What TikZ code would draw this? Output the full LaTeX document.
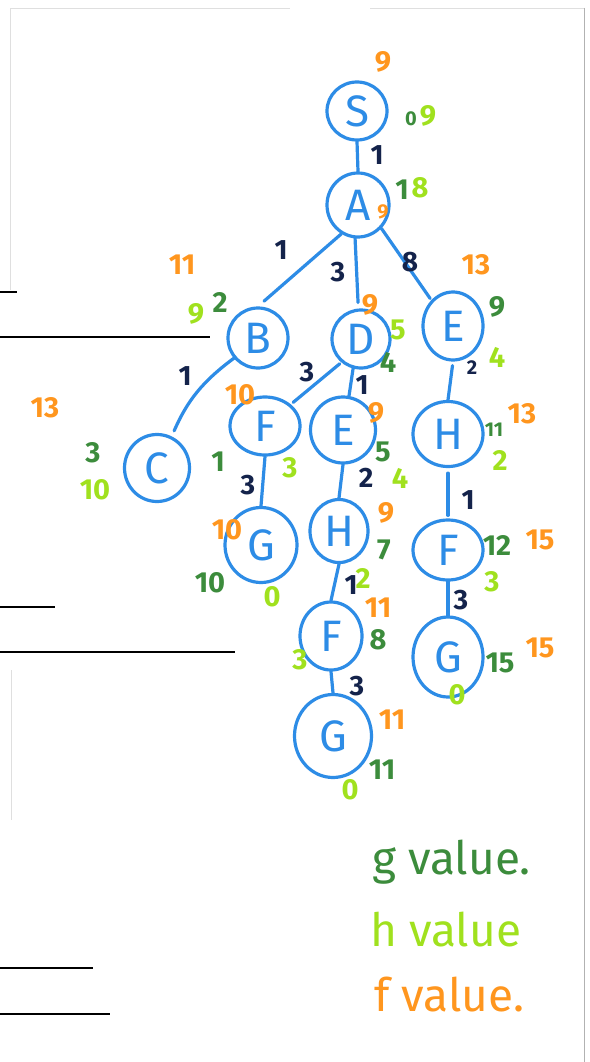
\documentclass[tikz,border=0pt]{standalone}
\usepackage{fontspec}
\setmainfont{Fira Sans}
\usetikzlibrary{shapes.geometric}
\definecolor{pen}{RGB}{45,140,230}
\definecolor{navy}{RGB}{20,35,75}
\definecolor{dgreen}{RGB}{60,140,60}
\definecolor{lgreen}{RGB}{160,225,30}
\definecolor{fcol}{RGB}{255,150,30}
\begin{document}
\begin{tikzpicture}[x=1pt,y=-1pt,
  state/.style={ellipse, draw=pen, line width=3.2pt, text=pen, inner sep=0pt,
    font=\fontsize{44}{44}\selectfont},
  link/.style={draw=pen, line width=3.2pt, line cap=round},
  cost/.style={text=navy, inner sep=0pt, font=\fontsize{28}{28}\selectfont\bfseries},
  gv/.style={text=dgreen, inner sep=0pt, font=\fontsize{29}{29}\selectfont\bfseries},
  hv/.style={text=lgreen, inner sep=0pt, font=\fontsize{29}{29}\selectfont\bfseries},
  fv/.style={text=fcol, inner sep=0pt, font=\fontsize{29}{29}\selectfont\bfseries},
  small/.style={font=\fontsize{20}{20}\selectfont\bfseries},
  legend/.style={anchor=west, inner sep=0pt, font=\fontsize{46}{46}\selectfont},
  rule/.style={draw=black, line width=2.6pt},
  frame/.style={draw=gray!25, line width=0.8pt}]

\useasboundingbox (0,0) rectangle (589,1062);
\fill[white] (0,0) rectangle (589,1062);

% page frame
\draw[frame] (10,290) -- (10,8) -- (290,8);
\draw[frame] (370,8) -- (584,8);
\draw[frame] (11,670) -- (11,820);
\draw[draw=gray!60, line width=1pt] (584,8) -- (584,1062);

% ruled lines on the left
\draw[rule] (0,292) -- (17,292);
\draw[rule] (0,337) -- (210,337);
\draw[rule] (0,607) -- (55,607);
\draw[rule] (0,652) -- (235,652);
\draw[rule] (0,968) -- (93,968);
\draw[rule] (0,1014) -- (110,1014);

% search tree
\node[state, minimum width=60pt, minimum height=58pt] (S)  at (357,111) {S};
\node[state, minimum width=62pt, minimum height=64pt] (A)  at (358,205) {A};
\node[state, minimum width=60pt, minimum height=60pt] (B)  at (258,338) {B};
\node[state, minimum width=58pt, minimum height=58pt] (D)  at (361,339) {D};
\node[state, minimum width=60pt, minimum height=68pt] (E1) at (453,326) {E};
\node[state, minimum width=65pt, minimum height=67pt] (C)  at (157,468) {C};
\node[state, minimum width=70pt, minimum height=58pt] (F1) at (265,426) {F};
\node[state, minimum width=65pt, minimum height=66pt] (E2) at (343,430) {E};
\node[state, minimum width=70pt, minimum height=65pt] (H1) at (448,434) {H};
\node[state, minimum width=72pt, minimum height=75pt] (G1) at (261,545) {G};
\node[state, minimum width=58pt, minimum height=63pt] (H2) at (339,531) {H};
\node[state, minimum width=70pt, minimum height=60pt] (F2) at (448,550) {F};
\node[state, minimum width=62pt, minimum height=68pt] (F3) at (331,636) {F};
\node[state, minimum width=70pt, minimum height=80pt] (G2) at (448,657) {G};
\node[state, minimum width=77pt, minimum height=83pt] (G3) at (333,736) {G};

% tree edges
\draw[link] (S.south) -- (A.north);
\draw[link, shorten >=8pt] (A.240) -- (B.north);
\draw[link, shorten >=6pt] (A.265) -- (D.95);
\draw[link, shorten >=2pt] (A.-45) -- (E1.130);
\draw[link, shorten >=6pt] (B.220) to[bend right=15] (C.65);
\draw[link, shorten <=2pt, shorten >=3pt] (D.230) -- (F1.40);
\draw[link] (D.255) -- (E2.80);
\draw[link, shorten <=4pt] (E1.south) -- (H1.north);
\draw[link] (F1.south) -- (G1.north);
\draw[link] (E2.south) -- (H2.north);
\draw[link, shorten <=5pt, shorten >=3pt] (H1.south) -- (F2.north);
\draw[link] (H2.south) -- (F3.north);
\draw[link] (F3.south) -- (G3.north);
\draw[link] (F2.south) -- (G2.north);

% step costs
\node[cost] (cSA)   at (377,155) {1};
\node[cost] (cAB)   at (281,250) {1};
\node[cost] (cAD)   at (338,272) {3};
\node[cost] (cAE)   at (410,262) {8};
\node[cost] (cBC)   at (185,376) {1};
\node[cost] (cDF)   at (307,372) {3};
\node[cost] (cDE)   at (362,385) {1};
\node[cost, small] (cEH) at (472,368) {2};
\node[cost] (cFG)   at (248,485) {3};
\node[cost] (cEH2)  at (366,478) {2};
\node[cost] (cHF)   at (468,500) {1};
\node[cost] (cHF2)  at (351,585) {1};
\node[cost] (cFG2)  at (461,600) {3};
\node[cost] (cFG3)  at (357,686) {3};

% S
\node[fv] (fS) at (383,62) {9};
\node[gv, small] (gS) at (411,119) {0};
\node[hv] (hS) at (428,116) {9};
% A
\node[gv] (gA) at (402,190) {1};
\node[hv] (hA) at (420,188) {8};
\node[fv, small] (fA) at (383,212) {9};
% B
\node[fv] (fB) at (182,265) {11};
\node[hv] (hB) at (196,314) {9};
\node[gv] (gB) at (220,302) {2};
% D
\node[fv] (fD) at (370,305) {9};
\node[hv] (hD) at (398,330) {5};
\node[gv] (gD) at (388,362) {4};
% E (right branch)
\node[fv] (fE1) at (476,265) {13};
\node[gv] (gE1) at (497,307) {9};
\node[hv] (hE1) at (497,357) {4};
% C
\node[fv] (fC) at (45,408) {13};
\node[gv] (gC) at (93,453) {3};
\node[hv] (hC) at (95,490) {10};
% F (under D)
\node[fv] (fF1) at (240,395) {10};
\node[gv] (gF1) at (218,462) {1};
\node[hv] (hF1) at (290,468) {3};
% E (under D)
\node[fv] (fE2) at (376,413) {9};
\node[gv] (gE2) at (383,452) {5};
\node[hv] (hE2) at (400,478) {4};
% H (right branch)
\node[gv, small] (gH1) at (494,430) {11};
\node[fv] (fH1) at (522,414) {13};
\node[hv] (hH1) at (500,460) {2};
% G (under F)
\node[fv] (fG1) at (227,530) {10};
\node[gv] (gG1) at (210,583) {10};
\node[hv] (hG1) at (272,597) {0};
% H (under E)
\node[fv] (fH2) at (386,513) {9};
\node[gv] (gH2) at (384,550) {7};
\node[hv] (hH2) at (363,578) {2};
% F (right branch)
\node[gv] (gF2) at (497,545) {12};
\node[fv] (fF2) at (540,540) {15};
\node[hv] (hF2) at (492,582) {3};
% F (under H)
\node[fv] (fF3) at (378,608) {11};
\node[gv] (gF3) at (378,640) {8};
\node[hv] (hF3) at (300,660) {3};
% G (right branch)
\node[gv] (gG2) at (500,663) {15};
\node[fv] (fG2) at (540,648) {15};
\node[hv] (hG2) at (457,695) {0};
% G (bottom)
\node[fv] (fG3) at (392,720) {11};
\node[gv] (gG3) at (382,770) {11};
\node[hv] (hG3) at (350,790) {0};

% key
\node[legend, text=dgreen] (kg) at (372,862) {g value.};
\node[legend, text=lgreen] (kh) at (370,930) {h value};
\node[legend, text=fcol]   (kf) at (374,995) {f value.};
\end{tikzpicture}
\end{document}
